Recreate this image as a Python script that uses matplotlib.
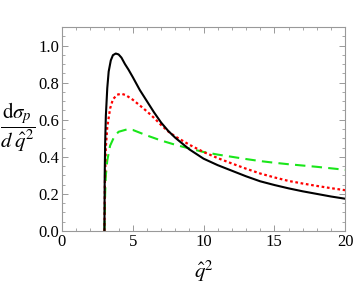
import matplotlib.pyplot as plt
from matplotlib.ticker import MultipleLocator

plt.rcParams['mathtext.fontset'] = 'stix'
plt.rcParams['font.family'] = 'Liberation Serif'

# values
x_black = [3.0, 3.02, 3.05, 3.1, 3.2, 3.3, 3.45, 3.6, 3.8, 4.0, 4.2, 4.45, 4.7, 5.0, 5.5,
           6.0, 6.5, 7.0, 7.5, 8.0, 9.0, 10.0, 11.0, 12.0, 13.0, 14.0, 15.0, 16.0,
           17.0, 18.0, 19.0, 20.0]
y_black = [0.0, 0.30, 0.47, 0.62, 0.77, 0.86, 0.92, 0.948, 0.957, 0.952, 0.935, 0.90, 0.87,
           0.83, 0.76, 0.70, 0.64, 0.585, 0.54, 0.503, 0.44, 0.39, 0.355, 0.325, 0.295,
           0.268, 0.248, 0.23, 0.214, 0.20, 0.186, 0.174]

x_red = [3.0, 3.03, 3.1, 3.2, 3.4, 3.6, 3.9, 4.2, 4.5, 5.0, 5.5, 6.0, 6.5, 7.0, 7.5, 8.0,
         9.0, 10.0, 11.0, 12.0, 13.0, 14.0, 15.0, 16.0, 17.0, 18.0, 19.0, 20.0]
y_red = [0.0, 0.25, 0.45, 0.56, 0.66, 0.71, 0.735, 0.74, 0.733, 0.708, 0.677, 0.645, 0.61,
         0.572, 0.537, 0.51, 0.465, 0.426, 0.393, 0.364, 0.336, 0.31, 0.289, 0.27, 0.256,
         0.243, 0.231, 0.22]

x_green = [3.0, 3.05, 3.1, 3.2, 3.4, 3.7, 4.0, 4.6, 5.0, 5.5, 6.0, 7.0, 8.0, 9.0, 10.0,
           11.0, 12.0, 13.0, 14.0, 15.0, 16.0, 17.0, 18.0, 19.0, 20.0]
y_green = [0.0, 0.20, 0.30, 0.38, 0.46, 0.51, 0.535, 0.548, 0.545, 0.53, 0.515, 0.488, 0.465,
           0.445, 0.426, 0.412, 0.40, 0.388, 0.377, 0.368, 0.36, 0.353, 0.346, 0.338, 0.33]

fig = plt.figure(figsize=(3.54, 2.89), dpi=100)
ax = fig.add_axes([0.175, 0.2007, 0.8, 0.7059])

ax.plot(x_green, y_green, color=(0.1, 0.9, 0.1), lw=1.5, ls=(0, (5, 3)))
ax.plot(x_red, y_red, color='red', lw=1.6, ls=(0, (1.2, 1.2)))
ax.plot(x_black, y_black, color='black', lw=1.5)

ax.set_xlim(0, 20)
ax.set_ylim(0, 1.1)
ax.xaxis.set_major_locator(MultipleLocator(5))
ax.xaxis.set_minor_locator(MultipleLocator(1))
ax.yaxis.set_major_locator(MultipleLocator(0.2))
ax.yaxis.set_minor_locator(MultipleLocator(0.05))
ax.yaxis.set_major_formatter(plt.FuncFormatter(lambda v, p: '%.1f' % v))
ax.tick_params(which='both', direction='in', top=True, right=True, color='#999999',
               labelsize=12, pad=2)
ax.tick_params(which='major', length=4.5, width=0.7)
ax.tick_params(which='minor', length=2.5, width=0.6)
for s in ax.spines.values():
    s.set_color('#999999')
    s.set_linewidth(0.8)

fig.text(0.05, 0.56, r'$\dfrac{\mathrm{d}\sigma_p}{d\;\hat{q}^2}$', fontsize=15,
         ha='center', va='center')
fig.text(0.575, 0.06, r'$\hat{q}^2$', fontsize=15, ha='center', va='center')

plt.savefig('out.png')
